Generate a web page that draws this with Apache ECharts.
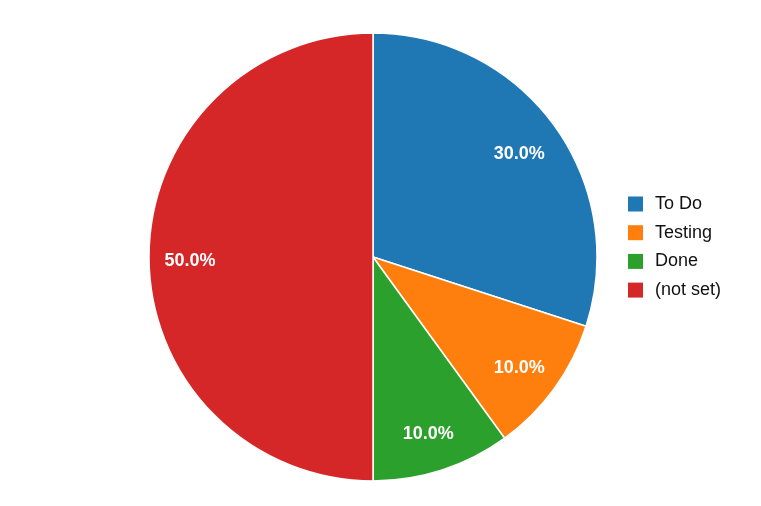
<!DOCTYPE html>
<html><head><meta charset="utf-8">
<script src="https://cdn.jsdelivr.net/npm/echarts@6/dist/echarts.min.js"></script>
<style>html,body{margin:0;padding:0;background:#fff}#c{width:761px;height:506px}</style>
</head><body><div id="c"></div>
<script>
const categories = ['To Do', 'Testing', 'Done', '(not set)'];
const values = [3, 1, 1, 5];
const colors = ['#1f77b4', '#ff7f0e', '#2ca02c', '#d62728'];

const data = categories.map((n, i) => ({ name: n, value: values[i] }));
const font = '"Liberation Sans", Arial, Helvetica, sans-serif';
const chart = echarts.init(document.getElementById('c'));
chart.setOption({
  animation: false,
  color: colors,
  legend: {
    orient: 'vertical', left: 628, top: 195, padding: 0,
    itemWidth: 15, itemHeight: 15, itemGap: 10.7, icon: 'rect',
    itemStyle: { borderWidth: 0 },
    textStyle: { fontFamily: font, fontSize: 18, color: '#111', lineHeight: 15, padding: [2,0,0,7] },
    data: categories
  },
  series: [
    {
      type: 'pie', center: [373, 257], radius: [0, 224], startAngle: 90, clockwise: true,
      itemStyle: { borderColor: '#fff', borderWidth: 1.5 },
      label: { show: false }, labelLine: { show: false },
      emphasis: { disabled: true },
      data: data
    },
    {
      type: 'pie', center: [373, 257], radius: [134, 224], startAngle: 90, clockwise: true,
      silent: true, legendHoverLink: false,
      itemStyle: { color: 'rgba(0,0,0,0)', borderWidth: 0 },
      label: {
        show: true, position: 'inside', color: '#fff', fontFamily: font,
        fontSize: 18, fontWeight: 'bold', offset: [-1, 4],
        formatter: p => p.percent.toFixed(1) + '%'
      },
      labelLine: { show: false },
      emphasis: { disabled: true },
      data: data.map(d => ({ name: d.name, value: d.value }))
    }
  ]
});
</script></body></html>
